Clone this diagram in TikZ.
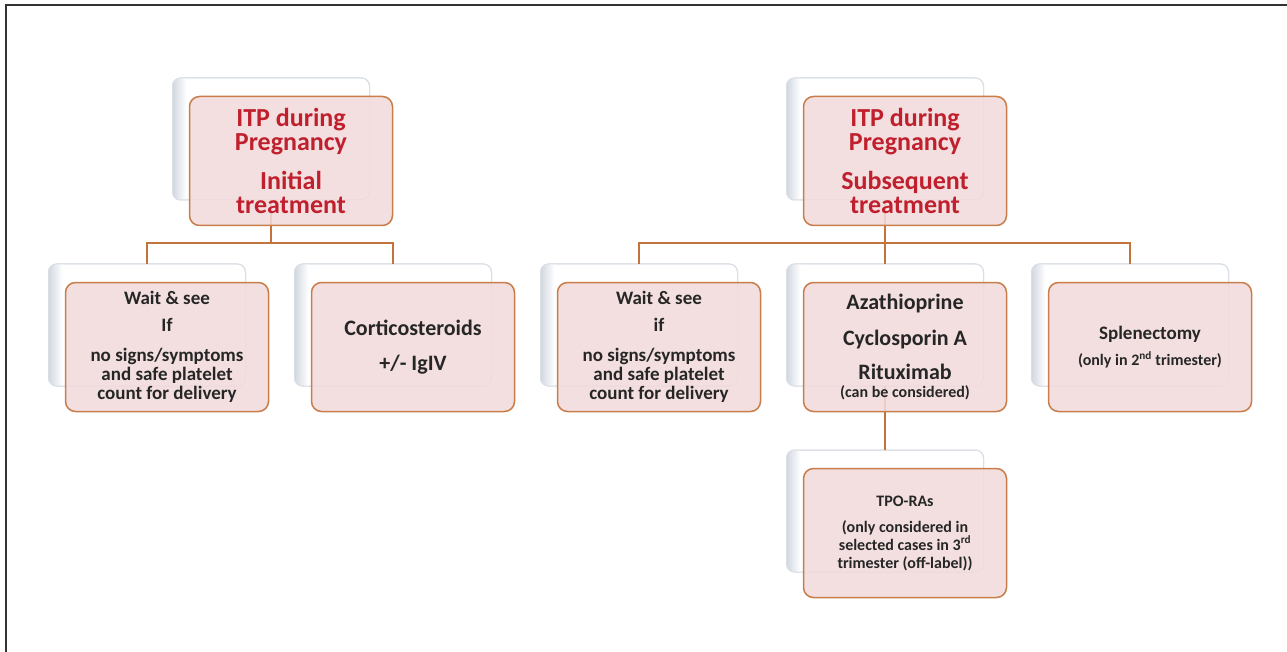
\documentclass[tikz,border=0pt]{standalone}
\usepackage{fontspec}
\setmainfont{Carlito}
\definecolor{pinkfill}{RGB}{242,219,220}
\definecolor{boxedge}{RGB}{200,125,75}
\definecolor{conn}{RGB}{195,115,60}
\definecolor{titlered}{RGB}{192,32,45}
\definecolor{txt}{RGB}{38,38,38}
\definecolor{backedge}{RGB}{218,223,230}
\definecolor{backshade}{RGB}{210,215,224}
\newcommand\fs[2]{\fontsize{#1}{#2}\selectfont}
\tikzset{
 backbox/.style={draw=backedge, line width=1pt, fill=white, rounded corners=8pt,
   minimum width=197pt, minimum height=122pt, inner sep=0pt, outer sep=0pt},
 frontbox/.style={draw=boxedge, line width=1.5pt, fill=pinkfill, fill opacity=0.88,
   text opacity=1, rounded corners=10pt, minimum width=203pt, minimum height=129pt,
   inner sep=0pt, outer sep=0pt, align=center, text=txt},
 titlebox/.style={frontbox, text=titlered, font=\bfseries\fs{26}{24}},
 link/.style={draw=conn, line width=1.5pt},
 frameline/.style={draw=black!80, line width=2pt},
}
\newcommand\mkback[3]{%
  \node[backbox] (#1) at (#2,#3) {};
  \begin{scope}
    \clip[rounded corners=8pt] (#1.south west) rectangle (#1.north east);
    \shade[left color=backshade, right color=white] (#1.south west) rectangle ([xshift=14pt]#1.north west);
  \end{scope}
  \draw[backedge, line width=1pt, rounded corners=8pt] (#1.south west) rectangle (#1.north east);
}
\begin{document}
\begin{tikzpicture}[x=1pt,y=-1pt]
\useasboundingbox (0,0) rectangle (1287,652);
\draw[frameline] (6,652) -- (6,5) -- (1287,5);

% back boxes
\mkback{P1}{271}{139}
\mkback{P2}{885}{139}
\mkback{C1}{147}{325}
\mkback{C2}{393}{325}
\mkback{C3}{639}{325}
\mkback{C4}{885}{325}
\mkback{C5}{1130}{325}
\mkback{C6}{885}{511}

% connectors
\coordinate (J) at (0,243);
\draw[link] (P1.south) -- (P1.south |- J);
\draw[link] (C1.north) -- (C1.north |- J) -- (C2.north |- J) -- (C2.north);
\draw[link] (P2.south) -- (C4.north);
\draw[link] (C3.north) -- (C3.north |- J) -- (C5.north |- J) -- (C5.north);
\draw[link] (C4.south) -- (C6.north);

% front boxes
\node[titlebox] (F1) at (291,161) {ITP during\\Pregnancy\\[15pt]Initial\\treatment};
\node[titlebox] (F2) at (905,161) {ITP during\\Pregnancy\\[15pt]Subsequent\\treatment};
\node[frontbox, font=\bfseries\fs{19}{19}] (G1) at (167,347) {Wait \& see\\[8pt]If\\[11pt]no signs/symptoms\\and safe platelet\\count for delivery};
\node[frontbox, font=\bfseries\fs{22}{22}] (G2) at (413,347) {Corticosteroids\\[13pt]+/- IgIV};
\node[frontbox, font=\bfseries\fs{19}{19}] (G3) at (659,347) {Wait \& see\\[8pt]if\\[11pt]no signs/symptoms\\and safe platelet\\count for delivery};
\node[frontbox, font=\bfseries\fs{22}{22}] (G4) at (905,347) {Azathioprine\\[14pt]Cyclosporin A\\[12pt]Rituximab\\[-4pt]{\fs{16}{18}(can be considered)}};
\node[frontbox, font=\bfseries\fs{19}{19}] (G5) at (1150,347) {Splenectomy\\[7pt]{\fs{16}{16}(only in 2\textsuperscript{nd} trimester)}};
\node[frontbox, font=\bfseries\fs{16}{18}] (G6) at (905,533) {TPO-RAs\\[8pt](only considered in\\selected cases in 3\textsuperscript{rd}\\trimester (off-label))};
\end{tikzpicture}
\end{document}
